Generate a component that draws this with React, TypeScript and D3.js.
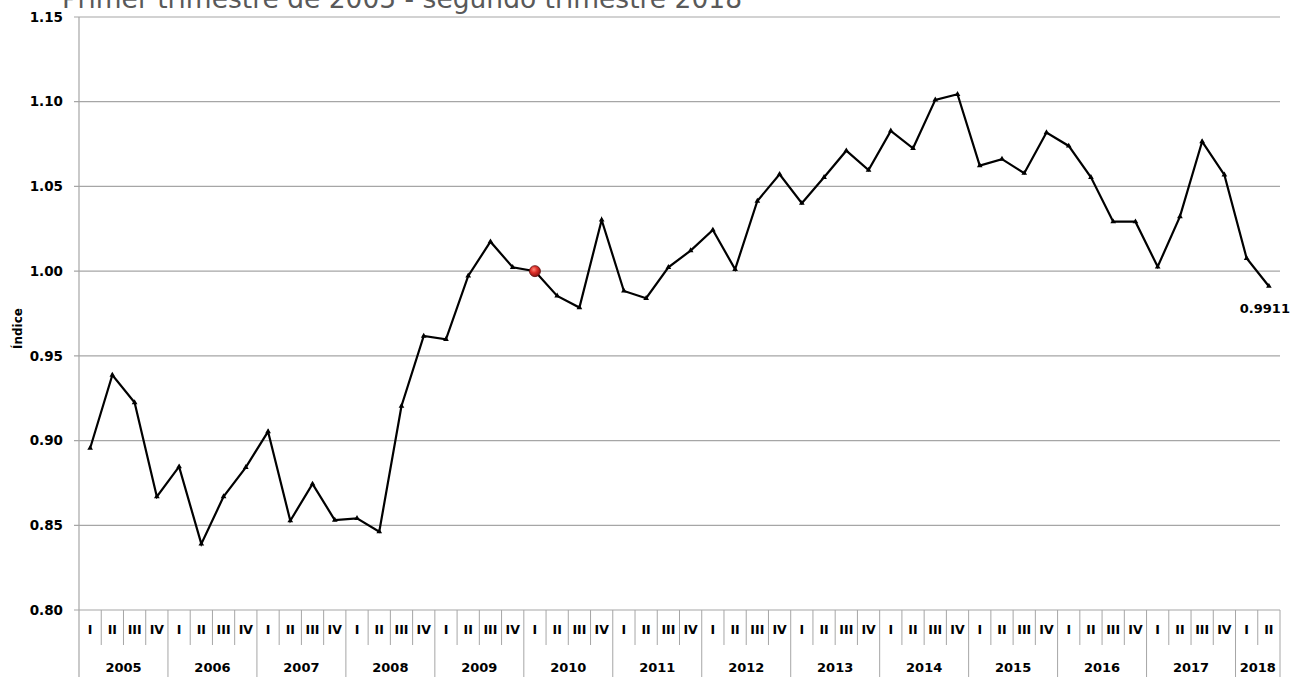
import React from 'react';
import * as d3 from 'd3';

const width = 1296;
const height = 677;

const years = ['2005', '2006', '2007', '2008', '2009', '2010', '2011', '2012', '2013', '2014', '2015', '2016', '2017', '2018'];
const quarters = ['I', 'II', 'III', 'IV'];
const yTicks = [0.8, 0.85, 0.9, 0.95, 1.0, 1.05, 1.1, 1.15];

const values = [
  0.8955, 0.9387, 0.9224, 0.8669,
  0.8846, 0.839, 0.8669, 0.8842,
  0.9053, 0.8527, 0.8744, 0.8531,
  0.8541, 0.8462, 0.9204, 0.9617,
  0.9598, 0.9972, 1.0174, 1.0023,
  1.0, 0.9854, 0.9785, 1.0302,
  0.9883, 0.984, 1.0023, 1.0121,
  1.0243, 1.0011, 1.0414, 1.0572,
  1.0401, 1.0554, 1.0711, 1.0597,
  1.0828, 1.0725, 1.1011, 1.1044,
  1.0623, 1.0661, 1.0578, 1.0818,
  1.0739, 1.0554, 1.0292, 1.0292,
  1.0026, 1.0322, 1.0765, 1.0568,
  1.0076, 0.9911,
];

const baseIndex = 20; // 2010 I, base = 1.00
const lastLabel = '0.9911';

// build category list: year + quarter
const categories = years.flatMap((y) => quarters.map((q) => ({ year: y, q, key: y + q }))).slice(0, values.length);

const margin = { top: 17, right: 16, bottom: 67, left: 79 };
const font = 'Tahoma, "DejaVu Sans", Verdana, sans-serif';

export default function App() {
  const x = d3
    .scaleBand()
    .domain(categories.map((c) => c.key))
    .range([margin.left, width - margin.right]);

  const y = d3
    .scaleLinear()
    .domain([0.8, 1.15])
    .range([height - margin.bottom, margin.top]);

  const cx = (i: number) => (x(categories[i].key) as number) + x.bandwidth() / 2;

  const line = d3
    .line<number>()
    .x((d, i) => cx(i))
    .y((d) => y(d));

  const y0 = y(0.8);
  const rowMid = y0 + 35;
  const tri = d3.symbol(d3.symbolTriangle, 14)();

  return (
    <svg width={width} height={height} style={{ position: 'absolute', left: 0, top: 0, background: '#fff' }}>
      <defs>
        <radialGradient id="redball" cx="40%" cy="35%" r="65%">
          <stop offset="0%" stopColor="#ff8a7a" />
          <stop offset="45%" stopColor="#e0302a" />
          <stop offset="100%" stopColor="#8a1010" />
        </radialGradient>
      </defs>

      <text x={62} y={8} fontFamily={font} fontSize={26.5} fill="#595959">
        Primer trimestre de 2005 - segundo trimestre 2018
      </text>

      {/* grid */}
      {yTicks.map((t) => (
        <g key={t}>
          <line x1={margin.left - 5} x2={width - margin.right} y1={y(t)} y2={y(t)} stroke="#a6a6a6" strokeWidth={1.2} />
          <text
            x={63}
            y={y(t)}
            dy="0.35em"
            textAnchor="end"
            fontFamily={font}
            fontWeight="bold"
            fontSize={13.5}
            fill="#000"
          >
            {t.toFixed(2)}
          </text>
        </g>
      ))}
      <line x1={margin.left} x2={margin.left} y1={margin.top} y2={height} stroke="#a6a6a6" strokeWidth={1.2} />

      <text
        transform={`translate(22,${(y(1.0) + y(0.95)) / 2 + 15}) rotate(-90)`}
        textAnchor="middle"
        fontFamily={font}
        fontWeight="bold"
        fontSize={12}
      >
        Índice
      </text>

      {/* category table */}
      {categories.map((c, i) => {
        const x0 = x(c.key) as number;
        const isYearStart = c.q === 'I';
        return (
          <g key={c.key}>
            {i > 0 && (
              <line
                x1={x0}
                x2={x0}
                y1={y0}
                y2={isYearStart ? height : rowMid}
                stroke="#a6a6a6"
                strokeWidth={1}
              />
            )}
            <text
              x={x0 + x.bandwidth() / 2}
              y={y0 + 24}
              textAnchor="middle"
              fontFamily={font}
              fontWeight="bold"
              fontSize={12.5}
            >
              {c.q}
            </text>
          </g>
        );
      })}
      <line x1={width - margin.right} x2={width - margin.right} y1={y0} y2={height} stroke="#a6a6a6" strokeWidth={1} />
      {years.map((yr) => {
        const cats = categories.filter((c) => c.year === yr);
        const a = x(cats[0].key) as number;
        const b = (x(cats[cats.length - 1].key) as number) + x.bandwidth();
        return (
          <text
            key={yr}
            x={(a + b) / 2}
            y={y0 + 62}
            textAnchor="middle"
            fontFamily={font}
            fontWeight="bold"
            fontSize={13}
          >
            {yr}
          </text>
        );
      })}

      {/* series */}
      <path d={line(values) as string} fill="none" stroke="#000" strokeWidth={2.2} strokeLinejoin="miter" />
      {values.map((v, i) =>
        i === baseIndex ? null : (
          <path key={i} d={tri as string} transform={`translate(${cx(i)},${y(v)})`} fill="#000" />
        )
      )}
      <circle cx={cx(baseIndex)} cy={y(values[baseIndex])} r={5.5} fill="url(#redball)" stroke="#5a0a0a" strokeWidth={0.8} />

      <text
        x={cx(values.length - 1) - 4}
        y={y(values[values.length - 1]) + 27}
        textAnchor="middle"
        fontFamily={font}
        fontWeight="bold"
        fontSize={13}
      >
        {lastLabel}
      </text>
    </svg>
  );
}
